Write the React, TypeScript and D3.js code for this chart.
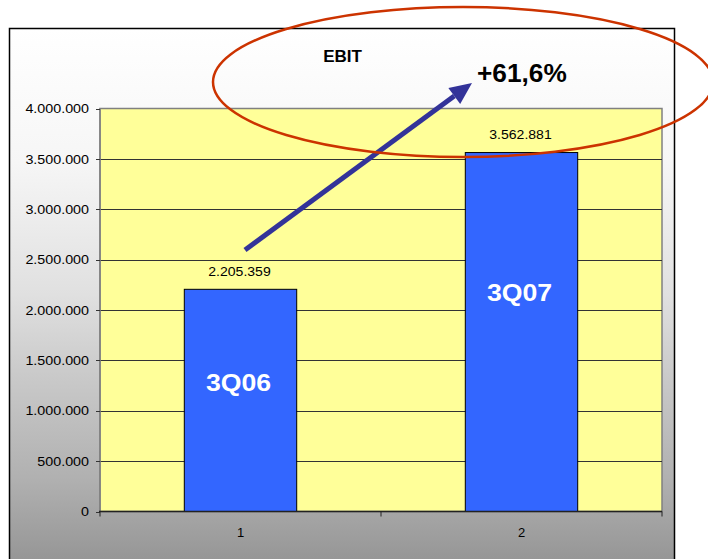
import React from "react";
import * as d3 from "d3";

const categories = ["1", "2"];
const values = [2205359, 3562881];
const valueLabels = ["2.205.359", "3.562.881"];
const barNames = ["3Q06", "3Q07"];
const barNameValues = [1196000, 2085000];
const yTicks = [0, 500000, 1000000, 1500000, 2000000, 2500000, 3000000, 3500000, 4000000];
const yTickLabels = ["0", "500.000", "1.000.000", "1.500.000", "2.000.000", "2.500.000", "3.000.000", "3.500.000", "4.000.000"];
const title = "EBIT";
const growthLabel = "+61,6%";

const FONT = "'Liberation Sans', Arial, sans-serif";

function T({ x, y, sx = 1, anchor = "middle", size, weight = "normal", fill = "#000", children }: any) {
  return (
    <text
      transform={`translate(${x},${y}) scale(${sx},1)`}
      textAnchor={anchor}
      fontSize={size}
      fontWeight={weight}
      fill={fill}
      fontFamily={FONT}
    >
      {children}
    </text>
  );
}

export default function App() {
  const W = 708, H = 559;
  const plot = { left: 100, right: 662, top: 108.5, bottom: 511.5 };
  const x = d3.scaleBand().domain(categories).range([plot.left, plot.right]).paddingInner(0.6).paddingOuter(0.3);
  const xOuter = d3.scaleBand().domain(categories).range([plot.left, plot.right]);
  const y = d3.scaleLinear().domain([0, 4000000]).range([plot.bottom, plot.top]);

  const bw = x.bandwidth();
  const xTickPos = [plot.left, ...categories.map((c) => (xOuter(c) as number) + xOuter.bandwidth())];

  // arrow from bar 1 region up to growth label
  const a0 = { x: 245, y: 250 };
  const a1 = { x: 472, y: 83 };
  const ang = Math.atan2(a1.y - a0.y, a1.x - a0.x);
  const headLen = 22, headW = 10;
  const bx = a1.x - headLen * Math.cos(ang), by = a1.y - headLen * Math.sin(ang);
  const px = -Math.sin(ang), py = Math.cos(ang);
  const head = [
    [a1.x, a1.y],
    [bx + headW * px, by + headW * py],
    [bx - headW * px, by - headW * py],
  ];

  return (
    <svg width={W} height={H} style={{ position: "absolute", left: 0, top: 0, display: "block" }}>
      <defs>
        <linearGradient id="bg" gradientUnits="userSpaceOnUse" x1="0" y1="29" x2="0" y2="560">
          <stop offset="0" stopColor="#ffffff" />
          <stop offset="0.25" stopColor="#f6f6f6" />
          <stop offset="0.5" stopColor="#e0e0e0" />
          <stop offset="0.65" stopColor="#cacaca" />
          <stop offset="0.85" stopColor="#b0b0b0" />
          <stop offset="1" stopColor="#969696" />
        </linearGradient>
      </defs>
      <rect x={9.5} y={28.5} width={665} height={545} fill="url(#bg)" stroke="#000" strokeWidth={1.5} />
      <rect x={plot.left} y={plot.top} width={plot.right - plot.left} height={plot.bottom - plot.top} fill="#FFFF99" stroke="#808080" strokeWidth={1.5} />
      {yTicks.slice(1, -1).map((t) => (
        <line key={t} x1={plot.left} x2={plot.right} y1={Math.round(y(t)) + 0.5} y2={Math.round(y(t)) + 0.5} stroke="#333" strokeWidth={1} />
      ))}
      {categories.map((c, i) => (
        <rect key={c} x={x(c)} y={y(values[i])} width={bw} height={plot.bottom - y(values[i])} fill="#3366FF" stroke="#000" strokeWidth={1} />
      ))}
      <line x1={plot.left} x2={plot.left} y1={plot.top} y2={plot.bottom} stroke="#808080" strokeWidth={1.5} />
      {yTicks.map((t, i) => (
        <g key={t}>
          <line x1={plot.left - 4} x2={plot.left} y1={Math.round(y(t)) + 0.5} y2={Math.round(y(t)) + 0.5} stroke="#333" />
          <T x={89} y={y(t) + 4.7} anchor="end" size={13} sx={1.1}>{yTickLabels[i]}</T>
        </g>
      ))}
      <line x1={plot.left - 1} x2={plot.right} y1={plot.bottom} y2={plot.bottom} stroke="#222" strokeWidth={1.5} />
      {xTickPos.map((p, i) => (
        <line key={i} x1={p} x2={p} y1={plot.bottom} y2={plot.bottom + 5} stroke="#222" />
      ))}
      {categories.map((c) => (
        <T key={c} x={(x(c) as number) + bw / 2} y={537} size={13}>{c}</T>
      ))}
      {categories.map((c, i) => (
        <T key={c} x={(x(c) as number) + bw / 2 - 1} y={y(values[i]) - 13.5} size={13} sx={1.08}>{valueLabels[i]}</T>
      ))}
      {categories.map((c, i) => (
        <T key={c} x={(x(c) as number) + bw / 2 - 2} y={y(barNameValues[i])} size={23} sx={1.16} weight="bold" fill="#fff">{barNames[i]}</T>
      ))}
      <line x1={a0.x} y1={a0.y} x2={bx} y2={by} stroke="#333399" strokeWidth={5} />
      <polygon points={head.map((p) => p.join(",")).join(" ")} fill="#333399" />
      <T x={342.5} y={62} size={17} weight="bold">{title}</T>
      <T x={477} y={82.3} size={25} sx={1.05} weight="bold" anchor="start">{growthLabel}</T>
      <ellipse cx={463} cy={82} rx={250} ry={75} fill="none" stroke="#CC3300" strokeWidth={2.5} />
    </svg>
  );
}
